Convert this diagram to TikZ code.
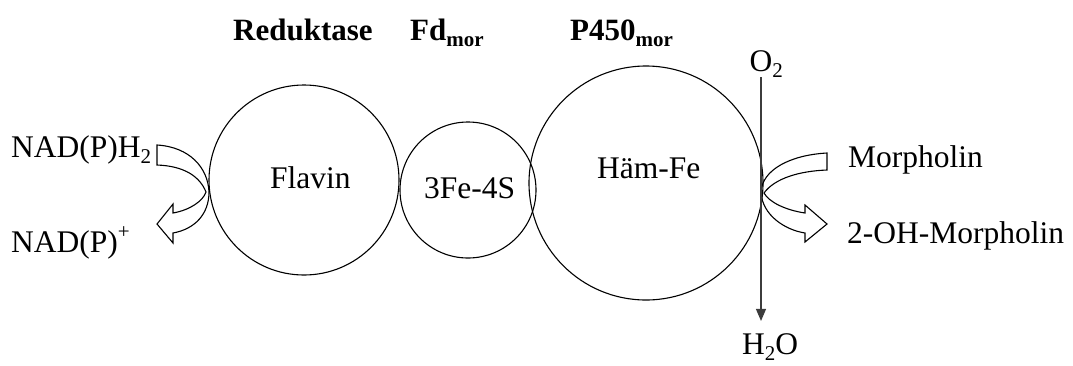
\documentclass[tikz,border=0pt]{standalone}
\usepackage{fontspec}
\setmainfont{Liberation Serif}
\usetikzlibrary{arrows.meta,positioning}
\definecolor{inkblack}{RGB}{0,0,0}
\definecolor{arrowgray}{RGB}{60,60,60}
\newcommand{\lowtxt}[1]{\raisebox{-0.22em}{\fontsize{21}{24}\selectfont #1}}
\newcommand{\hightxt}[1]{\raisebox{0.42em}{\fontsize{21}{24}\selectfont #1}}

\tikzset{
  enzyme/.style={draw=inkblack, circle, line width=1.1pt, inner sep=0pt},
  txt/.style={inner sep=0pt, anchor=base west, font=\fontsize{31.5}{38}\selectfont},
  head/.style={txt, font=\fontsize{31}{38}\selectfont\bfseries},
  flux/.style={draw=inkblack, line width=1.1pt, line join=miter},
}

\begin{document}
\begin{tikzpicture}[x=1pt, y=-1pt]
\useasboundingbox (0,0) rectangle (1073,365);
% redox chain
\node[enzyme, minimum size=190pt] (flavin) at (304,180) {};
\node[enzyme, minimum size=136pt] (fes) at (468,190) {};
\node[enzyme, minimum size=234pt] (haem) at (646,183) {};
\node[txt] (flavintxt) at (270,188) {Flavin};
\node[txt] (festxt) at (424,198) {3Fe-4S};
\node[txt] (haemtxt) at (597,178) {Häm-Fe};
% protein names
\node[head] (red) at (233,40) {Reduktase};
\node[head] (fd) at (410,40) {Fd\lowtxt{mor}};
\node[head] (p450) at (570,40) {P450\lowtxt{mor}};
% cofactor side
\node[txt] (nadh) at (11,157) {NAD(P)H\lowtxt{2}};
\node[txt] (nadp) at (11,252) {NAD(P)\hightxt{+}};
\draw[flux] (157,145) .. controls (190,147) and (208,168) .. (209,192)
  .. controls (209,214) and (195,229) .. (173,233)
  -- (173,243) -- (157,224) -- (173,204) -- (173,213)
  .. controls (190,210) and (203,201) .. (206,192)
  .. controls (200,177) and (185,166) .. (157,165) -- cycle;
% substrate side
\node[txt] (morph) at (848,167) {Morpholin};
\node[txt] (ohmorph) at (847,243) {2-OH-Morpholin};
\draw[flux] (827,153) .. controls (790,155) and (762,170) .. (761,192)
  .. controls (762,215) and (785,230) .. (805,233)
  -- (805,242) -- (827,224) -- (805,205) -- (805,213)
  .. controls (785,210) and (769,202) .. (764,193)
  .. controls (775,178) and (800,171) .. (827,170) -- cycle;
% oxygen
\node[txt, anchor=base] (o2) at (761,71) {O\rlap{\lowtxt{2}}};
\node[txt] (h2o) at (742,354) {H\lowtxt{2}O};
\draw[-{Triangle[length=12pt,width=10pt]}, line width=1.1pt, color=arrowgray,
  shorten <=-1pt, shorten >=12pt] (o2.south) -- (o2.south |- h2o.north);
\end{tikzpicture}
\end{document}
